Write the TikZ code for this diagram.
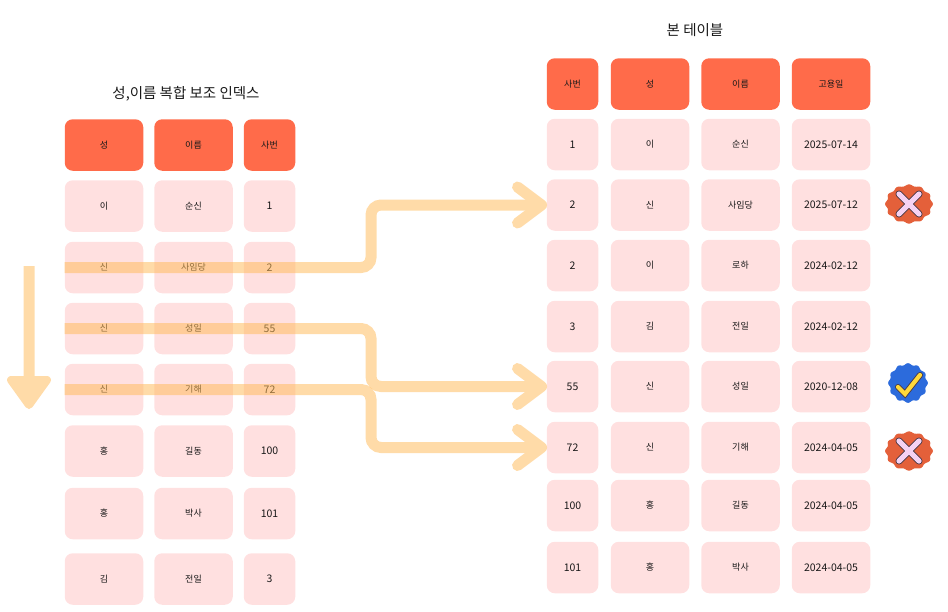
\documentclass[tikz,border=0pt]{standalone}
\usepackage{fontspec}
\setmainfont{Noto Sans CJK KR}
\usetikzlibrary{calc}
\definecolor{headfill}{HTML}{FF6B4A}
\definecolor{cellfill}{HTML}{FFE0E0}
\definecolor{flowcol}{HTML}{FFBB5B}
\definecolor{badred}{HTML}{E4603A}
\definecolor{goodblue}{HTML}{2C6BDC}
\definecolor{crossfill}{HTML}{F6D2F2}
\definecolor{checkfill}{HTML}{FFD93B}
\definecolor{markline}{HTML}{4A3A48}
\tikzset{
  cell/.style={fill=cellfill,rounded corners=8pt,minimum height=51.5pt,inner sep=0pt,text=black!90,font=\fontsize{9}{11}\selectfont},
  wide/.style={minimum width=78.5pt},
  slim/.style={minimum width=51.5pt},
  num/.style={font=\fontsize{10.5}{12}\selectfont},
  head/.style={fill=headfill,text=black!90},
  title/.style={text=black!90,inner sep=0pt,font=\fontsize{14.5}{18}\selectfont},
  flowline/.style={draw=flowcol,line width=11pt,rounded corners=10pt},
  flowtip/.style={draw=flowcol,line width=11pt,line cap=round,line join=round},
  crossbar/.style={line cap=round,line width=7pt,draw=markline},
  crossin/.style={line cap=round,line width=5.2pt,draw=crossfill},
}
\begin{document}
\begin{tikzpicture}[x=1pt,y=-1pt]
\useasboundingbox (0,0) rectangle (948,611);
% titles
\node[title] (ltitle) at (186,94) {성,이름 복합 보조 인덱스};
\node[title] (rtitle) at (695,30) {본 테이블};
% index table
\node[cell,wide,head] (lh1) at (104,145) {성};
\node[cell,wide,head] (lh2) at (193.5,145) {이름};
\node[cell,slim,head] (lh3) at (269.5,145) {사번};
\foreach \n/\y/\sung/\irum/\sabun in {1/206/이/순신/1,2/267.5/신/사임당/2,3/328.5/신/성일/55,4/389.5/신/기해/72,5/451/홍/길동/100,6/513.5/홍/박사/101,7/579/김/전일/3}{
  \node[cell,wide] (la\n) at (104,\y) {\sung};
  \node[cell,wide] (lb\n) at (193.5,\y) {\irum};
  \node[cell,slim,num] (lc\n) at (269.5,\y) {\sabun};
}
% base table
\node[cell,slim,head] (rh1) at (572.5,84) {사번};
\node[cell,wide,head] (rh2) at (650,84) {성};
\node[cell,wide,head] (rh3) at (740.5,84) {이름};
\node[cell,wide,head] (rh4) at (831,84) {고용일};
\foreach \n/\y/\sabun/\sung/\irum/\hired in {1/144.5/1/이/순신/2025-07-14,2/205/2/신/사임당/2025-07-12,3/265.5/2/이/로하/2024-02-12,4/326.5/3/김/전일/2024-02-12,5/386.5/55/신/성일/2020-12-08,6/447.5/72/신/기해/2024-04-05,7/505.5/100/홍/길동/2024-04-05,8/567.5/101/홍/박사/2024-04-05}{
  \node[cell,slim,num] (ra\n) at (572.5,\y) {\sabun};
  \node[cell,wide] (rb\n) at (650,\y) {\sung};
  \node[cell,wide] (rc\n) at (740.5,\y) {\irum};
  \node[cell,wide,num] (rd\n) at (831,\y) {\hired};
}
% scan direction
\coordinate (scantop) at (29,266);
\coordinate (scanend) at (29,384);
\begin{scope}[transparency group,opacity=.53]
\draw[flowcol,line width=11pt] (scantop)--(scanend);
\draw[flowtip,line width=8pt,fill=flowcol] (11,380)--(47,380)--(29,405)--cycle;
\end{scope}
% lookups
\begin{scope}[transparency group,opacity=.53]
\draw[flowline] (la2.west)--(la2.west -| 371,0)--(371,0 |- ra2.west)--($(ra2.west)+(-5,0)$);
\draw[flowtip] ($(ra2.west)+(-29,-18)$)--($(ra2.west)+(-5,0)$)--($(ra2.west)+(-29,18)$);
\end{scope}
\begin{scope}[transparency group,opacity=.53]
\draw[flowline] (la3.west)--(la3.west -| 371,0)--(371,0 |- ra5.west)--($(ra5.west)+(-5,0)$);
\draw[flowtip] ($(ra5.west)+(-29,-18)$)--($(ra5.west)+(-5,0)$)--($(ra5.west)+(-29,18)$);
\end{scope}
\begin{scope}[transparency group,opacity=.53]
\draw[flowline] (la4.west)--(la4.west -| 371,0)--(371,0 |- ra6.west)--($(ra6.west)+(-5,0)$);
\draw[flowtip] ($(ra6.west)+(-29,-18)$)--($(ra6.west)+(-5,0)$)--($(ra6.west)+(-29,18)$);
\end{scope}
% badges
\foreach \cy in {204,451}{
  \fill[badred] plot[smooth,domain=0:360,samples=73] ({909+(23+1*cos(12*\x))*cos(\x)},{\cy+(18.8+.9*cos(12*\x))*sin(\x)}) -- cycle;
  \draw[crossbar] (899,\cy-10)--(919,\cy+10);
  \draw[crossbar] (919,\cy-10)--(899,\cy+10);
  \draw[crossin] (899,\cy-10)--(919,\cy+10);
  \draw[crossin] (919,\cy-10)--(899,\cy+10);
}
\fill[goodblue] plot[smooth,domain=0:360,samples=73] ({908+(19+.9*cos(12*\x))*cos(\x)},{383+(19+.9*cos(12*\x))*sin(\x)}) -- cycle;
\draw[line width=6pt,line cap=round,line join=miter,markline] (898,387)--(905,394)--(920,375);
\draw[line width=4.2pt,line cap=round,line join=miter,checkfill] (898,387)--(905,394)--(920,375);
\end{tikzpicture}
\end{document}
